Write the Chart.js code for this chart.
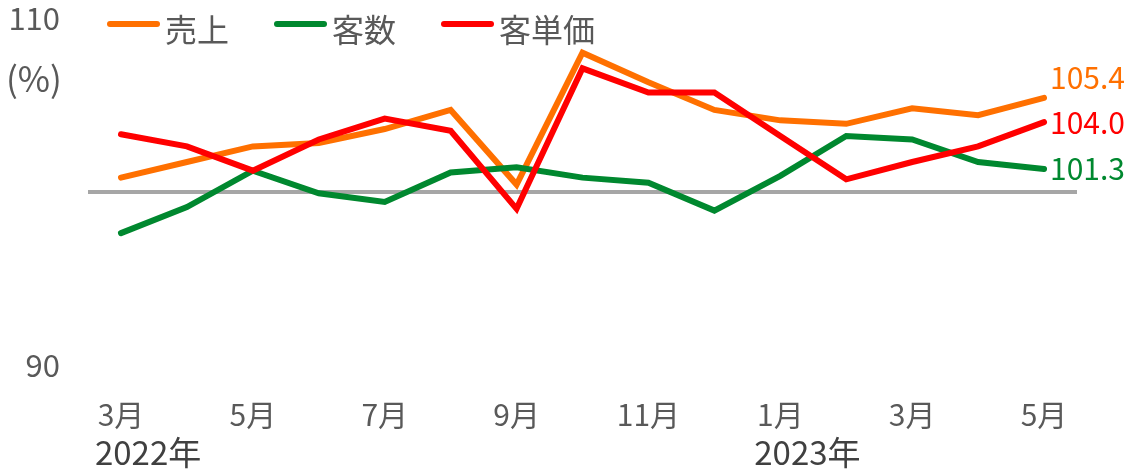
<!DOCTYPE html>
<html>
<head>
<meta charset="utf-8">
<script src="https://cdn.jsdelivr.net/npm/chart.js@4"></script>
<style>
  body { margin: 0; background: #fff; }
</style>
</head>
<body>
<canvas id="chart" width="1140" height="469"></canvas>
<script>
const months = ["3月", "4月", "5月", "6月", "7月", "8月", "9月", "10月", "11月", "12月", "1月", "2月", "3月", "4月", "5月"];
const years = [{ index: 0, text: "2022年" }, { index: 10, text: "2023年" }];
const sales = [100.8, 101.7, 102.6, 102.8, 103.6, 104.7, 100.4, 108.0, 106.3, 104.7, 104.1, 103.9, 104.8, 104.4, 105.4];
const customers = [97.6, 99.1, 101.2, 99.9, 99.4, 101.1, 101.4, 100.8, 100.5, 98.9, 100.9, 103.2, 103.0, 101.7, 101.3];
const unitPrice = [103.3, 102.6, 101.2, 103.0, 104.2, 103.5, 99.0, 107.1, 105.7, 105.7, 103.2, 100.7, 101.7, 102.6, 104.0];

const FONT = "'Noto Sans CJK JP', 'Noto Sans', sans-serif";
const TEXT = "#595959";

// legend, unit, years and end values
const extras = {
  id: "extras",
  afterDraw(chart) {
    const c = chart.ctx;
    c.save();
    c.textBaseline = "middle";
    c.textAlign = "left";

    c.font = "32px " + FONT;
    let lx = 110;
    chart.data.datasets.forEach(ds => {
      c.strokeStyle = ds.borderColor;
      c.lineWidth = 6;
      c.lineCap = "round";
      c.beginPath();
      c.moveTo(lx, 24);
      c.lineTo(lx + 47, 24);
      c.stroke();
      c.fillStyle = TEXT;
      c.fillText(ds.label, lx + 55, 30);
      lx += 55 + c.measureText(ds.label).width + 48;
    });

    c.font = "35px " + FONT;
    c.fillStyle = TEXT;
    c.fillText("(%)", 6, 79);

    c.font = "33px " + FONT;
    c.fillStyle = "#404040";
    const xs = chart.scales.x;
    years.forEach(y => {
      c.fillText(y.text, xs.getPixelForValue(y.index) - 26, 452);
    });

    c.font = "30px " + FONT;
    chart.data.datasets.forEach((ds, i) => {
      const pts = chart.getDatasetMeta(i).data;
      const p = pts[pts.length - 1];
      c.fillStyle = ds.borderColor;
      c.fillText(ds.data[ds.data.length - 1].toFixed(1), p.x + 6, p.y + (ds.labelShift || 0));
    });
    c.restore();
  }
};

new Chart(document.getElementById("chart"), {
  type: "line",
  data: {
    labels: months,
    datasets: [
      { label: "売上", data: sales, borderColor: "#FF7000", order: 2, labelShift: -20 },
      { label: "客数", data: customers, borderColor: "#00882F", order: 1, labelShift: 0 },
      { label: "客単価", data: unitPrice, borderColor: "#FF0000", order: 0, labelShift: 0 }
    ]
  },
  options: {
    responsive: false,
    animation: false,
    layout: { padding: { top: 18, right: 63, left: 0, bottom: 0 } },
    elements: {
      line: { borderWidth: 6, tension: 0, borderJoinStyle: "miter", borderCapStyle: "round" },
      point: { radius: 0, hoverRadius: 0 }
    },
    plugins: {
      legend: { display: false },
      tooltip: { enabled: false }
    },
    scales: {
      x: {
        offset: true,
        border: { display: false },
        grid: { display: false, drawTicks: false },
        afterFit: s => {
          s.height = 104;
          s.paddingLeft = 0;
          s.paddingRight = 0;
        },
        ticks: {
          autoSkip: false,
          maxRotation: 0,
          padding: 32,
          color: TEXT,
          font: { family: FONT, size: 30 },
          callback: (v, i) => (i % 2 === 0 ? months[i] : "")
        }
      },
      y: {
        min: 90,
        max: 110,
        border: { display: false },
        afterFit: s => {
          s.width = 88;
          s.paddingTop = 0;
          s.paddingBottom = 0;
        },
        grid: {
          drawTicks: false,
          color: c => (c.tick && c.tick.value === 100 ? "#A6A6A6" : "rgba(0,0,0,0)"),
          lineWidth: c => (c.tick && c.tick.value === 100 ? 4 : 0)
        },
        ticks: {
          stepSize: 10,
          padding: 28,
          color: TEXT,
          font: { family: FONT, size: 31, lineHeight: 1 },
          callback: v => (v === 100 ? "" : v)
        }
      }
    }
  },
  plugins: [extras]
});
</script>
</body>
</html>
